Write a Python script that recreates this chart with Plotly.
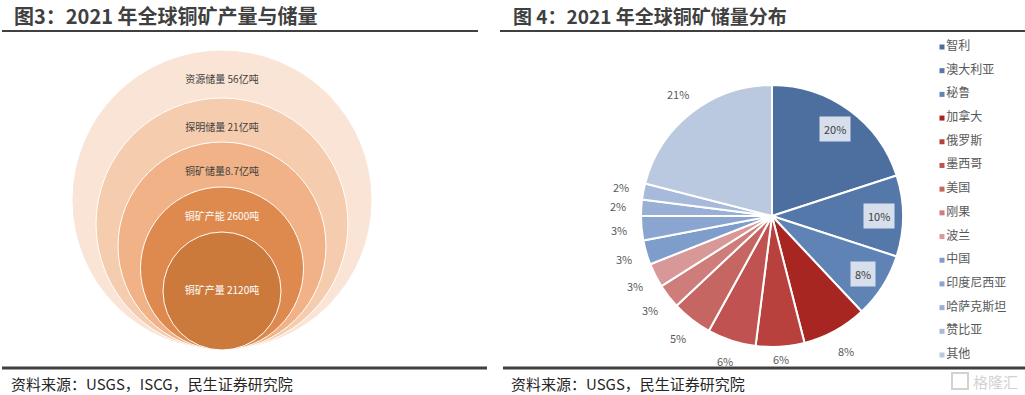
import math
import plotly.graph_objects as go

W, H = 1025, 395

# ---------------- data ----------------
left_title = "图3：2021 年全球铜矿产量与储量"
right_title = "图 4：2021 年全球铜矿储量分布"
left_source = "资料来源：USGS，ISCG，民生证券研究院"
right_source = "资料来源：USGS，民生证券研究院"

circle_labels = ["资源储量 56亿吨", "探明储量 21亿吨", "铜矿储量8.7亿吨",
                 "铜矿产能 2600吨", "铜矿产量 2120吨"]

countries = ["智利", "澳大利亚", "秘鲁", "加拿大", "俄罗斯", "墨西哥", "美国",
             "刚果", "波兰", "中国", "印度尼西亚", "哈萨克斯坦", "赞比亚", "其他"]
shares = [20, 10, 8, 8, 6, 6, 5, 3, 3, 3, 3, 2, 2, 21]

# ---------------- styles ----------------
FONT = "Noto Sans CJK SC"
DARK = "#404040"
circle_colors = ["#FAE4D5", "#F6CCAE", "#F1B287", "#DE894D", "#CC7A3C"]
circle_text_colors = [DARK, DARK, DARK, "#FFFFFF", "#FFFFFF"]
circle_radii = [150, 126, 104, 81.5, 59]
circle_cx, circle_base = 222, 350

slice_colors = ["#4C6F9F", "#5478AA", "#5F83B5", "#A82622", "#B8403D", "#C05352",
                "#C66663", "#CE7D7B", "#D99898", "#7F9DCB", "#8AA5D0", "#98B0D6",
                "#A7BADC", "#BAC8E0"]
pie_cx, pie_cy, pie_r = 772, 216, 131
boxed_count = 3

fig = go.Figure()

# ---- left: nested circles ----
shapes = []
for i, r in enumerate(circle_radii):
    shapes.append(dict(type="circle", xref="x", yref="y", layer="below",
                       x0=circle_cx - r, x1=circle_cx + r,
                       y0=circle_base - 2 * r, y1=circle_base,
                       fillcolor=circle_colors[i],
                       line=dict(color="white", width=1)))
label_y = []
for i, r in enumerate(circle_radii):
    top = circle_base - 2 * r
    label_y.append(top + 30 if i < len(circle_radii) - 1 else circle_base - r)
fig.add_trace(go.Scatter(
    x=[circle_cx] * len(circle_labels), y=label_y, text=circle_labels,
    mode="text", textposition="middle center",
    textfont=dict(family=FONT, size=10, color=circle_text_colors),
    xaxis="x", yaxis="y", showlegend=False, hoverinfo="skip"))

# ---- right: pie ----
fig.add_trace(go.Pie(
    labels=countries, values=shares, sort=False, direction="clockwise",
    rotation=0, textinfo="none", showlegend=False,
    marker=dict(colors=slice_colors, line=dict(color="white", width=2)),
    domain=dict(x=[(pie_cx - pie_r) / W, (pie_cx + pie_r) / W],
                y=[1 - (pie_cy + pie_r) / H, 1 - (pie_cy - pie_r) / H])))

annotations = []
total = sum(shares)
cum = 0
for i, v in enumerate(shares):
    mid = (cum + v / 2) / total * 2 * math.pi
    cum += v
    s, c = math.sin(mid), math.cos(mid)
    common = dict(xref="paper", yref="paper", xanchor="center", yanchor="middle",
                  text=f"{v}%", showarrow=False)
    if i < boxed_count:
        d = pie_r * 0.82
        px, py = pie_cx + d * s, pie_cy - d * c
        annotations.append(dict(x=px / W, y=1 - py / H, bgcolor="#D6DFEB",
                                borderpad=4,
                                font=dict(family=FONT, size=11, color=DARK), **common))
    else:
        d = pie_r * 1.175 - 12 * max(0.0, -c) ** 40
        px, py = pie_cx + d * s, pie_cy - d * c
        annotations.append(dict(x=px / W, y=1 - py / H,
                                font=dict(family=FONT, size=11, color="#595959"),
                                **common))

# ---- legend (built from categories) ----
fig.add_trace(go.Scatter(
    x=[942] * len(countries), y=countries, mode="markers+text",
    text=countries, textposition="middle right",
    textfont=dict(family=FONT, size=12, color="#595959"),
    marker=dict(symbol="square", size=5, color=slice_colors),
    xaxis="x", yaxis="y2", showlegend=False, hoverinfo="skip",
    cliponaxis=False))

# ---- titles, rules, sources ----
for txt, x, fs in [(left_title, 12, 20), (right_title, 511, 19)]:
    annotations.append(dict(x=x, y=15, xref="x", yref="y", text=f"<b>{txt}</b>",
                            xanchor="left", yanchor="middle", showarrow=False,
                            font=dict(family=FONT, size=fs, color=DARK)))
for txt, x in [(left_source, 9), (right_source, 509)]:
    annotations.append(dict(x=x, y=383, xref="x", yref="y", text=txt,
                            xanchor="left", yanchor="middle", showarrow=False,
                            font=dict(family=FONT, size=15, color="#262626")))
annotations.append(dict(x=1020, y=381, xref="x", yref="y", text="格隆汇",
                        xanchor="right", yanchor="middle", showarrow=False,
                        font=dict(family=FONT, size=15, color="#D2D2D2")))
shapes.append(dict(type="rect", xref="x", yref="y", x0=952, x1=968, y0=373, y1=389,
                   line=dict(color="#D2D2D2", width=2)))

for x0, x1, y, w in [(2, 478, 31, 2), (500, 1025, 31, 2),
                     (2, 487, 368, 3), (503, 1025, 368, 3)]:
    shapes.append(dict(type="line", xref="x", yref="y", x0=x0, x1=x1, y0=y, y1=y,
                       line=dict(color=DARK, width=w)))

fig.update_layout(
    width=W, height=H, margin=dict(l=0, r=0, t=0, b=0),
    paper_bgcolor="white", plot_bgcolor="rgba(0,0,0,0)",
    xaxis=dict(domain=[0, 1], range=[0, W], visible=False, fixedrange=True),
    yaxis=dict(domain=[0, 1], range=[H, 0], visible=False, fixedrange=True),
    yaxis2=dict(domain=[1 - 355 / H, 1 - 47 / H], type="category",
                categoryarray=countries, range=[len(countries) - 1, 0],
                visible=False, anchor="x", fixedrange=True),
    shapes=shapes, annotations=annotations, showlegend=False,
    font=dict(family=FONT),
)

fig.write_html("out.html", config={"displayModeBar": False},
               post_script="document.body.style.margin='0';document.body.style.overflow='hidden';")
